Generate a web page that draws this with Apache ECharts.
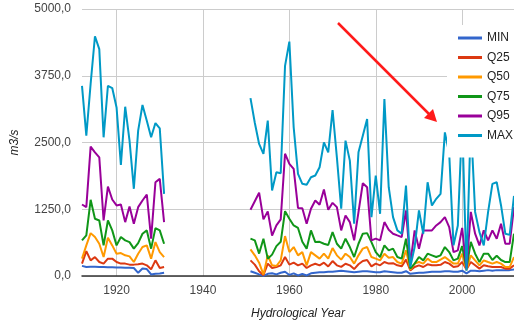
<!DOCTYPE html>
<html>
<head>
<meta charset="utf-8">
<script src="https://cdn.jsdelivr.net/npm/echarts@6/dist/echarts.min.js"></script>
<style>
  html, body { margin: 0; padding: 0; background: #fff; }
  #chart { width: 514px; height: 321px; }
</style>
</head>
<body>
<div id="chart"></div>
<script>
function range(a, b) {
  var out = [];
  for (var i = a; i <= b; i++) out.push(i);
  return out;
}

// two observation periods, gap in between
var years = range(1912, 1931).concat(range(1951, 2012));
var xTicks = [1920, 1940, 1960, 1980, 2000];
var yTicks = [0, 1250, 2500, 3750, 5000];

var seriesNames = ["MIN", "Q25", "Q50", "Q75", "Q95", "MAX"];
var colors = ["#3366cc", "#dc3912", "#ff9900", "#109618", "#990099", "#0099c6"];

var minVals = [190,170,175,175,170,170,165,165,160,160,155,155,150,60,140,130,30,40,45,60,
  90,60,30,5,40,50,30,60,80,20,50,10,40,10,50,60,70,70,80,80,
  90,100,90,80,70,80,90,90,80,70,
  70,90,80,70,60,60,90,40,50,60,60,70,80,80,80,90,90,80,80,100,
  50,100,100,90,100,110,100,110,110,110,110,120];
var q25Vals = [232,467,293,355,262,232,325,325,262,232,232,213,213,219,232,200,125,293,150,168,
  293,213,88,15,232,150,168,200,355,213,250,200,232,150,200,230,200,250,180,280,
  200,170,230,200,130,220,280,300,180,232,
  200,262,232,240,200,181,306,106,168,200,168,219,200,200,210,262,232,168,181,262,
  120,262,200,138,200,181,168,168,168,138,138,200];
var q50Vals = [325,573,803,729,604,355,717,573,418,430,387,368,262,418,542,573,325,635,448,355,
  499,387,250,26,387,200,187,293,747,448,542,387,448,200,448,387,325,418,325,523,
  387,306,418,355,232,387,512,542,355,325,
  293,418,343,355,262,232,480,120,232,262,232,325,262,262,306,355,293,232,232,418,
  106,387,293,200,293,262,232,262,232,168,168,355];
var q75Vals = [667,760,1427,1072,1040,573,1040,854,573,729,667,635,512,617,792,854,512,897,854,604,
  699,667,420,699,325,400,560,640,1215,1072,947,900,640,512,854,635,640,604,580,822,
  604,512,699,542,355,604,792,803,635,448,
  355,573,480,512,355,325,699,138,232,355,293,418,387,355,387,542,448,293,325,560,
  138,640,418,260,418,418,300,380,300,260,260,792];
var q95Vals = [1339,1289,2423,2316,2223,1040,1676,1433,1321,1339,1009,1302,977,1289,1414,1526,699,1756,1819,1009,
  1240,1400,1560,1060,1210,755,947,1060,2290,2100,2006,1275,1268,980,1259,1414,1336,1620,1240,1370,
  1289,854,1134,1009,667,1196,1737,1663,667,699,
  667,1009,867,792,760,729,1227,232,854,512,854,854,854,947,1009,1102,915,448,480,900,
  138,1200,792,573,854,667,854,699,979,604,604,1289];
var maxVals = [3562,2628,3600,4490,4248,2597,3562,3519,3157,2081,3170,2535,1633,2722,3202,2908,2597,2865,2765,1539,
  3330,2870,2473,2286,2909,1601,1943,1924,3936,4390,2784,1913,1726,1707,1849,1881,2036,2503,2316,3108,
  2223,1259,2535,2161,979,2316,2628,2940,1102,1881,
  1165,3313,1663,1102,854,792,1694,168,542,1227,792,1756,1321,1446,1539,2690,2300,573,947,2900,
  100,2900,1200,822,573,1196,1726,1756,1321,790,770,1500];

var allVals = [minVals, q25Vals, q50Vals, q75Vals, q95Vals, maxVals];

function toData(vals) {
  var out = [];
  for (var i = 0; i < years.length; i++) {
    if (i > 0 && years[i] - years[i - 1] > 1) out.push([years[i - 1] + 1, "-"]);
    out.push([years[i], vals[i]]);
  }
  return out;
}

var font = "Liberation Sans, Arial, sans-serif";

var chart = echarts.init(document.getElementById("chart"), null, { renderer: "canvas" });
chart.setOption({
  animation: false,
  color: colors,
  grid: { left: 82, right: 0, top: 9, bottom: 45, containLabel: false, outerBoundsMode: "none" },
  legend: {
    orient: "vertical",
    left: 447,
    top: 25,
    z: 20,
    padding: [7, 6, 16, 11],
    backgroundColor: "#fff",
    itemWidth: 24,
    itemHeight: 3,
    itemGap: 7.5,
    icon: "rect",
    textStyle: { fontFamily: font, fontSize: 12, color: "#222" },
    data: seriesNames
  },
  xAxis: {
    type: "value",
    min: 1912,
    max: 2012,
    name: "Hydrological Year",
    nameLocation: "middle",
    nameGap: 32,
    nameTextStyle: { fontFamily: font, fontSize: 12, fontStyle: "italic", color: "#222" },
    axisLine: { show: true, lineStyle: { color: "#333", width: 1.5 } },
    axisTick: { show: false, customValues: xTicks },
    axisLabel: {
      customValues: xTicks, fontFamily: font, fontSize: 12, color: "#444", margin: 9,
      formatter: function (v) { return String(v); }
    },
    splitLine: { show: true, lineStyle: { color: "#ccc", width: 1 } }
  },
  yAxis: {
    type: "value",
    min: yTicks[0],
    max: yTicks[yTicks.length - 1],
    interval: 1250,
    name: "m3/s",
    nameLocation: "middle",
    nameGap: 61,
    nameRotate: 90,
    nameTextStyle: { fontFamily: font, fontSize: 12, fontStyle: "italic", color: "#222" },
    axisLine: { show: false },
    axisTick: { show: false },
    axisLabel: {
      fontFamily: font, fontSize: 12, color: "#444", margin: 11,
      formatter: function (v) { return v.toFixed(1).replace(".", ","); }
    },
    splitLine: { lineStyle: { color: "#ccc", width: 1 } }
  },
  series: allVals.map(function (vals, k) {
    return {
      name: seriesNames[k],
      type: "line",
      data: toData(vals),
      showSymbol: false,
      connectNulls: false,
      lineStyle: { width: 2 }
    };
  }),
  graphic: [
    {
      type: "line",
      shape: { x1: 338, y1: 23, x2: 431, y2: 116 },
      style: { stroke: "#ff1a1a", lineWidth: 2.5 },
      z: 100
    },
    {
      type: "polygon",
      shape: { points: [[437, 122], [433, 109], [424, 118]] },
      style: { fill: "#ff1a1a" },
      z: 100
    }
  ]
});
</script>
</body>
</html>
